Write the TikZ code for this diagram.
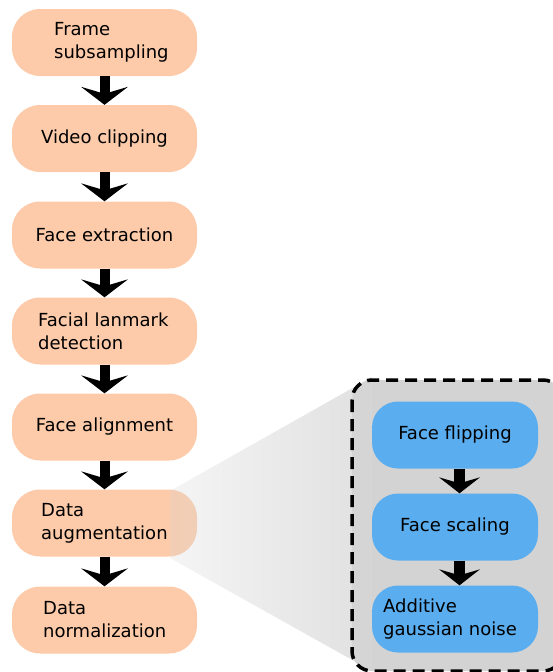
\documentclass[tikz,border=0pt]{standalone}
\usepackage{fontspec}
\setmainfont{DejaVu Sans}
\usetikzlibrary{arrows.meta,fadings}
\definecolor{peach}{HTML}{FDCBA9}
\definecolor{skyblue}{HTML}{5AADEE}
\definecolor{boxgray}{HTML}{D3D3D3}
\definecolor{funnelgray}{HTML}{D6D6D6}
\tikzfading[name=funnelfade, left color=transparent!75, right color=transparent!25]
\begin{document}
\begin{tikzpicture}[x=1pt,y=-1pt,
  lbl/.style={font=\fontsize{18pt}{23pt}\selectfont},
  pbox/.style={lbl, fill=peach, rounded corners=28pt, minimum width=185pt, minimum height=67pt, inner sep=0pt},
  bbox/.style={lbl, fill=skyblue, rounded corners=26pt, minimum width=166pt, minimum height=67pt, inner sep=0pt},
  txt/.style={lbl, anchor=west, align=left, inner sep=0pt},
  flow/.style={line width=10pt, -{Stealth[length=18pt,width=47pt,inset=7pt,line width=0pt]}},
  bflow/.style={line width=11pt, -{Stealth[length=16pt,width=41pt,inset=6pt,line width=0pt]}},
  zoomborder/.style={line width=3.5pt, dash pattern=on 12pt off 7pt, rounded corners=20pt}
]
\useasboundingbox (0,0) rectangle (553,672);
\clip (0,0) rectangle (553,672);

% main pipeline
\node[pbox] (b1) at (104.5,42.5) {};
\node[txt] (t1) at (54,42.5) {Frame\\subsampling};
\node[pbox] (b2) at (104.5,138.5) {Video clipping};
\node[pbox] (b3) at (104.5,235) {Face extraction};
\node[pbox] (b4) at (104.5,331) {};
\node[txt] (t4) at (38,331) {Facial lanmark\\detection};
\node[pbox] (b5) at (104.5,427) {Face alignment};
\node[pbox] (b6) at (104.5,523) {};
\node[txt] (t6) at (41,523) {Data\\augmentation};
\node[pbox] (b7) at (104.5,620) {};
\node[txt] (t7) at (43,620) {Data\\normalization};

\draw[flow] (b1.south) -- (b2.north);
\draw[flow] (b2.south) -- (b3.north);
\draw[flow] (b3.south) -- (b4.north);
\draw[flow] (b4.south) -- (b5.north);
\draw[flow] (b5.south) -- (b6.north);
\draw[flow] (b6.south) -- (b7.north);

% zoom box
\fill[boxgray, rounded corners=20pt] (352,380) rectangle (563,671);
\fill[funnelgray, path fading=funnelfade] (170,491) -- (372,377) -- (372,671) -- (170,558) -- cycle;
\draw[zoomborder] (352,380) rectangle (563,671);

\node[bbox] (f1) at (455,435) {Face flipping};
\node[bbox] (f2) at (455,527) {Face scaling};
\node[bbox] (f3) at (455,619) {};
\node[txt] (t8) at (383,619) {Additive\\gaussian noise};

\draw[bflow] ([xshift=4.5pt]f1.south) -- ([xshift=4.5pt]f2.north);
\draw[bflow] ([xshift=4.5pt]f2.south) -- ([xshift=4.5pt]f3.north);
\end{tikzpicture}
\end{document}
